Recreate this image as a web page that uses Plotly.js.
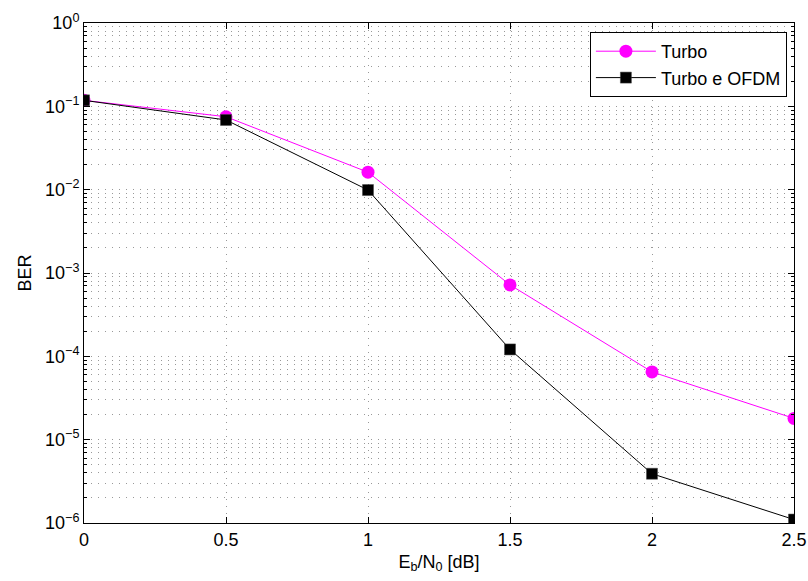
<!DOCTYPE html>
<html>
<head>
<meta charset="utf-8">
<script src="https://cdn.plot.ly/plotly-3.0.1.min.js"></script>
<style>html,body{margin:0;padding:0;background:#fff}#chart{width:808px;height:581px}</style>
</head>
<body>
<div id="chart"></div>
<script>
const ebno = [0, 0.5, 1, 1.5, 2, 2.5];
const berTurbo = [0.118, 0.075, 0.0162, 7.2e-4, 6.5e-5, 1.8e-5];
const berTurboOFDM = [0.118, 0.0686, 0.0099, 1.21e-4, 3.9e-6, 1.1e-6];
const seriesNames = ["Turbo", "Turbo e OFDM"];
const yTickVals = [1e-6, 1e-5, 1e-4, 1e-3, 1e-2, 1e-1, 1];
const yTickText = ["10<sup>\u22126</sup>", "10<sup>\u22125</sup>", "10<sup>\u22124</sup>", "10<sup>\u22123</sup>", "10<sup>\u22122</sup>", "10<sup>\u22121</sup>", "10<sup>0</sup>"];

const minorVals = [];
for (let e = -6; e < 0; e++) {
  for (let m = 2; m <= 9; m++) minorVals.push(m * Math.pow(10, e));
}

const fam = "Liberation Sans, Arial, Helvetica, sans-serif";
const fsize = 18;
const gridDash = "1px,6px";

const traces = [
  {
    x: ebno, y: berTurbo, name: seriesNames[0], type: "scatter", mode: "lines+markers",
    line: {color: "#ff00ff", width: 1},
    marker: {symbol: "circle", size: 13, color: "#ff00ff"}
  },
  {
    x: ebno, y: berTurboOFDM, name: seriesNames[1], type: "scatter", mode: "lines+markers",
    line: {color: "#000000", width: 1},
    marker: {symbol: "square", size: 11, color: "#000000", line: {color: "#444", width: 0.5}}
  }
];

const layout = {
  width: 808, height: 581,
  margin: {l: 84, r: 14, t: 23, b: 58},
  paper_bgcolor: "#fff", plot_bgcolor: "#fff",
  font: {family: fam, size: fsize, color: "#000"},
  showlegend: true,
  legend: {
    x: 0.99, y: 0.982, xanchor: "right", yanchor: "top",
    bgcolor: "#fff", bordercolor: "#000", borderwidth: 1,
    font: {family: fam, size: fsize, color: "#000"},
    itemwidth: 60, tracegroupgap: 0
  },
  xaxis: {
    range: [0, 2.5], dtick: 0.5, tick0: 0,
    showline: true, linecolor: "#000", linewidth: 1, mirror: "allticks",
    ticks: "inside", ticklen: 6, tickcolor: "#000",
    showgrid: true, gridcolor: "#999", gridwidth: 1, griddash: gridDash,
    zeroline: false,
    tickfont: {family: fam, size: fsize, color: "#000"},
    title: {text: "E<sub>b</sub>/N<sub>0</sub> [dB]", font: {family: fam, size: fsize, color: "#000"}, standoff: 6}
  },
  yaxis: {
    type: "log", range: [-6, 0],
    tickmode: "array", tickvals: yTickVals, ticktext: yTickText,
    showline: true, linecolor: "#000", linewidth: 1, mirror: "allticks",
    ticks: "inside", ticklen: 6, tickcolor: "#000",
    showgrid: true, gridcolor: "#999", gridwidth: 1, griddash: gridDash,
    zeroline: false,
    tickfont: {family: fam, size: fsize, color: "#000"},
    minor: {
      tickmode: "array", tickvals: minorVals,
      ticks: "inside", ticklen: 3, tickcolor: "#000",
      showgrid: true, gridcolor: "#999", gridwidth: 1, griddash: gridDash
    },
    title: {text: "BER", font: {family: fam, size: fsize, color: "#000"}, standoff: 8}
  }
};

Plotly.newPlot("chart", traces, layout, {displayModeBar: false, staticPlot: true});
</script>
</body>
</html>
